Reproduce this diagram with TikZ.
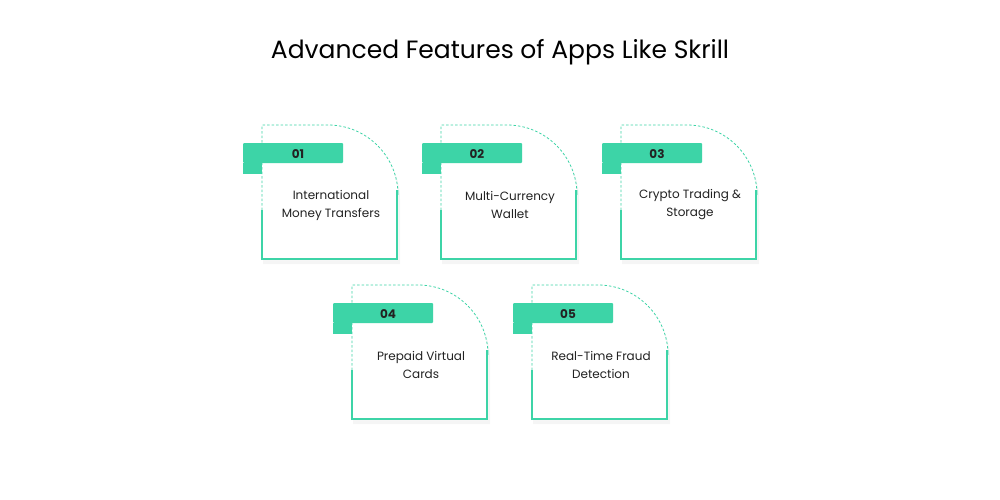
\documentclass[tikz,border=0pt]{standalone}
\usepackage{fontspec}
\setmainfont{Poppins}
\definecolor{gr}{HTML}{3DD4A7}
\definecolor{tx}{HTML}{222222}
\newcommand\featcard[5]{%
 \begin{scope}[shift={(#1,#2)}]
  \fill[black!4] (2,4) -- (2,139) -- (139,139) -- (139,74) arc[start angle=0,end angle=-90,radius=70] -- cycle;
  \fill[white] (0,0) -- (0,135) -- (137,135) -- (137,70) arc[start angle=0,end angle=-90,radius=70] -- cycle;
  \draw[gr,dash pattern=on 2.5pt off 2pt,line width=0.8pt] (1,85) -- (1,0) -- (67,0) arc[start angle=-90,end angle=0,radius=70] -- (137,65);
  \draw[gr,line width=2.2pt] (1,85) -- (1,134) -- (136,134) -- (136,65);
  \fill[gr,rounded corners=1pt] (-18,18) rectangle (82,38);
  \fill[gr] (-18,38) rectangle (1,49);
  \node[font=\fontsize{12}{14}\selectfont\bfseries,text=tx] (n#5) at (37,29) {#3};
  \node[font=\fontsize{12}{18}\selectfont,text=tx,align=center] (t#5) at (70,80) {#4};
 \end{scope}}
\begin{document}
\begin{tikzpicture}[x=1pt,y=-1pt]
\useasboundingbox (0,0) rectangle (1000,500);
\node[font=\fontsize{25}{28}\selectfont,text=black] (title) at (500,52) {Advanced Features of Apps Like Skrill};
\featcard{261}{125}{01}{International\\Money Transfers}{a}
\featcard{440}{125}{02}{Multi-Currency\\Wallet}{b}
\featcard{620}{125}{03}{Crypto Trading \&\\Storage}{c}
\featcard{351}{285}{04}{Prepaid Virtual\\Cards}{d}
\featcard{531}{285}{05}{Real-Time Fraud\\Detection}{e}
\end{tikzpicture}
\end{document}
